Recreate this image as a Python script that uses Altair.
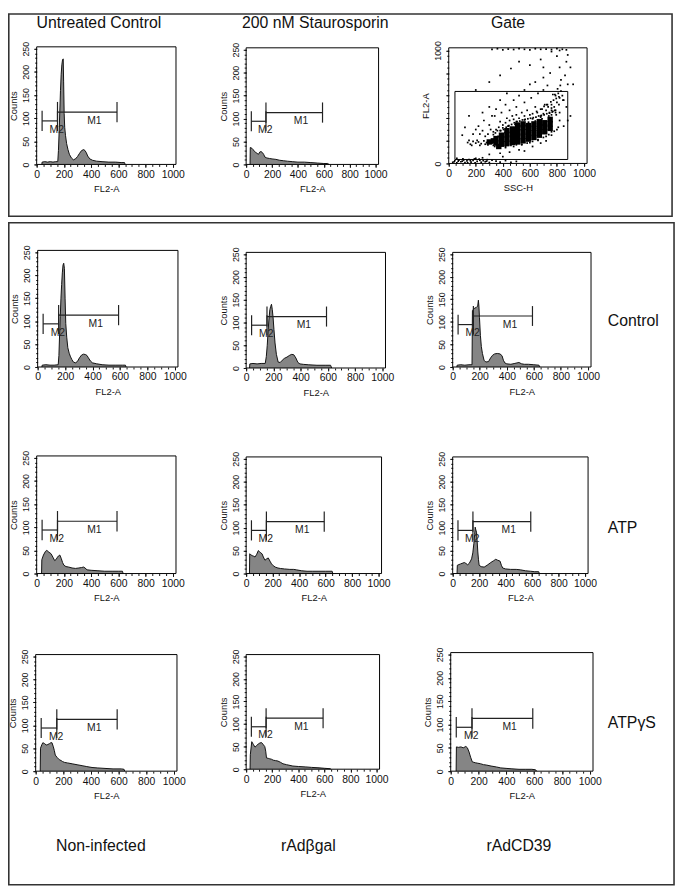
import altair as alt
import pandas as pd

FONT = "Liberation Sans"
W, H, M = 677, 886, 8      # plot area and page margin
XMAX, YMAX, GMAX = 1023, 254, 1023

# ---------------- data ----------------
untreated_fl2 = [38, 40, 60, 80, 100, 120, 140, 155, 160, 165, 170, 175, 180, 185, 190, 195, 198, 202, 206, 212, 220,
                 230, 240, 255, 270, 285, 300, 315, 330, 345, 355, 365, 375, 390, 410, 440, 480, 530, 580, 620, 645, 650]
untreated_counts = [0, 5, 6, 5, 6, 5, 6, 6, 30, 70, 115, 160, 195, 215, 226, 228, 180, 110, 80, 62, 45,
                    32, 22, 14, 10, 12, 17, 24, 30, 32, 30, 25, 18, 12, 9, 7, 6, 5, 5, 4, 4, 0]

stauro_fl2 = [30, 32, 45, 55, 65, 75, 85, 95, 105, 115, 125, 135, 145, 160, 180, 200, 230, 260, 290, 320, 360,
              400, 450, 500, 550, 600, 630, 640]
stauro_counts = [0, 37, 35, 32, 28, 26, 24, 22, 27, 28, 26, 22, 16, 14, 13, 12, 11, 9, 8, 7, 6,
                 5, 5, 4, 3, 2, 2, 0]

ctrl_noninf_fl2 = [31, 33, 60, 90, 120, 150, 155, 160, 165, 170, 175, 180, 185, 190, 195, 200, 205, 212, 220, 230,
                   240, 250, 260, 275, 290, 305, 320, 335, 350, 360, 370, 385, 400, 430, 470, 520, 570, 620, 640, 645]
ctrl_noninf_counts = [0, 4, 5, 4, 4, 5, 25, 70, 110, 150, 180, 205, 222, 226, 215, 150, 95, 65, 42, 30,
                      22, 16, 11, 9, 12, 20, 26, 28, 27, 25, 20, 13, 9, 7, 5, 4, 4, 4, 4, 0]

ctrl_bgal_fl2 = [25, 27, 50, 80, 110, 140, 148, 155, 162, 168, 174, 180, 186, 192, 198, 204, 212, 222, 235, 250,
                 265, 280, 300, 320, 335, 350, 365, 380, 395, 420, 460, 520, 580, 620, 628]
ctrl_bgal_counts = [0, 9, 10, 9, 10, 10, 25, 50, 85, 110, 128, 135, 140, 128, 110, 85, 55, 30, 13, 12,
                    17, 21, 24, 28, 30, 29, 22, 12, 9, 8, 7, 6, 6, 6, 0]

ctrl_cd39_fl2 = [31, 33, 60, 90, 120, 143, 146, 160, 175, 185, 190, 194, 198, 205, 212, 220, 232, 245, 265, 280,
                 295, 310, 330, 350, 365, 375, 386, 400, 430, 460, 490, 510, 530, 560, 600, 638, 645]
ctrl_cd39_counts = [0, 4, 5, 4, 5, 5, 125, 130, 132, 135, 148, 135, 110, 70, 45, 30, 15, 11, 12, 20,
                    26, 29, 30, 29, 25, 15, 9, 7, 6, 8, 10, 7, 6, 6, 5, 4, 0]

atp_noninf_fl2 = [36, 38, 50, 65, 75, 90, 105, 120, 132, 142, 150, 160, 170, 180, 190, 200, 215, 235, 260, 285,
                  310, 330, 345, 355, 370, 400, 450, 500, 560, 600, 630, 635]
atp_noninf_counts = [0, 30, 40, 48, 50, 46, 43, 35, 28, 30, 34, 38, 40, 33, 24, 18, 15, 14, 12, 11,
                     12, 13, 14, 12, 8, 7, 6, 5, 5, 5, 5, 0]

atp_bgal_fl2 = [25, 27, 35, 45, 55, 67, 80, 92, 100, 110, 120, 130, 142, 155, 167, 180, 192, 205, 220, 240,
                260, 290, 330, 360, 380, 420, 460, 500, 550, 600, 650, 655]
atp_bgal_counts = [0, 43, 41, 39, 38, 36, 42, 50, 48, 45, 43, 36, 29, 32, 34, 27, 21, 17, 14, 12,
                   11, 10, 9, 9, 8, 6, 5, 5, 5, 5, 5, 0]

atp_cd39_fl2 = [33, 35, 60, 88, 100, 113, 125, 143, 152, 160, 166, 170, 175, 180, 185, 190, 195, 200, 215, 238,
                260, 288, 310, 325, 340, 358, 368, 378, 400, 438, 480, 513, 550, 588, 620, 650, 655]
atp_cd39_counts = [0, 18, 21, 24, 22, 19, 22, 32, 45, 65, 85, 101, 95, 90, 70, 47, 30, 18, 15, 14,
                   18, 24, 28, 31, 29, 27, 18, 12, 10, 9, 9, 8, 6, 5, 4, 4, 0]

atps_noninf_fl2 = [33, 35, 45, 52, 65, 76, 88, 100, 110, 118, 128, 135, 142, 155, 171, 185, 194, 210, 230, 265,
                   300, 336, 370, 408, 450, 502, 560, 621, 640, 645]
atps_noninf_counts = [0, 50, 58, 62, 60, 57, 58, 60, 62, 62, 53, 45, 35, 30, 25, 23, 21, 19, 18, 16,
                      14, 12, 10, 8, 7, 6, 5, 5, 4, 0]

atps_bgal_fl2 = [30, 32, 43, 55, 68, 80, 93, 105, 118, 130, 143, 150, 156, 170, 181, 195, 207, 225, 244, 265,
                 282, 310, 358, 400, 458, 500, 559, 600, 647, 650]
atps_bgal_counts = [0, 32, 61, 55, 49, 52, 56, 58, 59, 55, 50, 40, 25, 24, 23, 22, 20, 19, 18, 15,
                    12, 10, 7, 6, 5, 4, 3, 2, 1, 0]

atps_cd39_fl2 = [39, 41, 55, 74, 90, 109, 120, 132, 143, 155, 166, 178, 195, 213, 235, 259, 290, 329, 360, 398,
                 440, 491, 540, 583, 610, 618]
atps_cd39_counts = [0, 52, 51, 52, 50, 53, 50, 41, 30, 20, 19, 18, 17, 16, 14, 13, 11, 9, 7, 6,
                    5, 4, 4, 4, 3, 0]

# markers M2 / M1 (FL2 range, level in counts, tick half height)
marker_names = ["M2", "M1"]
marker_lo = [40, 153]
marker_hi = [153, 590]
marker_level = [94, 113]
marker_half = [22, 22]
marker_label_fl2 = [148, 424]
marker_label_counts = [75, 94]

# gate scatter (SSC-H, FL2-A): dense core cells and sparse single events
core_ssc = [350, 350, 390, 390, 390, 430, 430, 430, 430, 470, 470, 470, 470, 510, 510, 510, 510, 510,
            550, 550, 550, 550, 550, 590, 590, 590, 590, 630, 630, 630, 630, 670, 670, 670, 670,
            710, 710, 710, 750, 750, 750, 330, 370, 300]
core_fl2 = [180, 220, 170, 210, 250, 175, 215, 255, 290, 185, 225, 265, 305, 190, 230, 270, 310, 340,
            200, 240, 280, 320, 350, 215, 255, 295, 335, 230, 270, 310, 350, 250, 290, 330, 370,
            280, 320, 360, 310, 350, 390, 200, 150, 190]
sparse_ssc = [30, 45, 60, 75, 90, 105, 120, 135, 150, 165, 180, 195, 210, 225, 240, 255, 270, 285, 300, 60, 100,
              140, 200, 250, 320, 350, 380, 420, 460, 500, 40, 70, 110, 160, 190, 230, 280,
              140, 160, 180, 200, 220, 240, 260, 280, 300, 320, 340, 170, 230, 290, 150, 210, 270, 330,
              760, 775, 790, 800, 810, 820, 830, 780, 805, 795, 815, 840, 770, 825, 850, 760, 745, 735, 720, 700,
              690, 680, 710, 650, 620, 640, 600, 580, 560, 540, 520, 500, 480, 470, 450, 430, 420, 400, 380, 370,
              350, 330, 310, 290, 270, 250, 230, 300, 320, 260, 220, 200, 180, 350, 420, 480, 520, 560, 600, 640,
              700, 750, 820, 860, 880, 870, 800, 830, 610, 660, 700, 730, 560, 500, 450, 390, 340, 430, 380, 300,
              250, 120, 100, 150, 200, 300, 380, 460, 520, 600, 680, 700, 760, 820, 880, 900, 920,
              320, 360, 400, 440, 480, 520, 560, 600, 640, 680, 720, 760, 800, 840, 870,
              620, 680, 720, 760, 800, 850, 880, 900, 820, 870, 300, 380, 450, 520, 560, 400,
              360, 420, 480, 540, 600, 660, 720, 760, 380, 440, 500, 560, 620, 680, 760, 790,
              330, 345, 365, 385, 405, 425, 445, 465, 485, 505, 525, 545, 565, 585, 605, 625, 645, 665, 685,
              705, 725, 745, 765, 785, 795, 770, 740, 690, 640, 590, 540, 490, 440, 400, 360,
              340, 380, 420, 460, 500, 540, 580, 620, 660, 700, 740, 780, 810, 790, 760, 730, 705, 680, 655,
              400, 460, 520, 580, 640, 700, 760, 820, 845, 815, 785, 755, 725]
sparse_fl2 = [10, 25, 5, 30, 15, 40, 8, 22, 35, 12, 28, 5, 18, 38, 10, 25, 15, 33, 8, 45, 20,
              5, 45, 50, 30, 20, 12, 25, 10, 18, 15, 20, 30, 25, 40, 28, 20,
              185, 170, 195, 180, 190, 175, 200, 185, 195, 180, 205, 160, 160, 165, 205, 205, 170, 160,
              520, 560, 600, 540, 620, 580, 640, 500, 660, 575, 520, 600, 610, 690, 560, 470, 450, 500, 470, 440,
              480, 420, 520, 460, 440, 500, 430, 470, 420, 450, 400, 430, 390, 420, 380, 400, 360, 340, 370, 320,
              300, 280, 300, 260, 240, 290, 260, 340, 420, 380, 330, 300, 260, 480, 520, 560, 600, 650, 700, 720,
              760, 800, 850, 780, 700, 900, 950, 740, 580, 620, 650, 690, 540, 500, 470, 450, 420, 620, 560, 500,
              450, 320, 250, 420, 650, 720, 780, 840, 900, 870, 920, 850, 990, 1000, 960, 850, 700,
              1010, 1015, 1005, 1012, 1008, 1015, 1010, 1005, 1015, 1010, 1012, 1008, 1015, 1010, 1005,
              150, 180, 200, 250, 300, 330, 380, 420, 450, 500, 80, 90, 100, 120, 110, 60,
              140, 140, 150, 165, 185, 205, 240, 280, 290, 330, 370, 385, 395, 410, 430, 450,
              255, 270, 240, 290, 300, 320, 335, 345, 360, 370, 375, 385, 390, 395, 400, 405, 410, 420, 425,
              430, 440, 445, 455, 470, 430, 460, 420, 395, 375, 365, 355, 345, 330, 315, 290,
              150, 145, 150, 160, 165, 170, 180, 195, 210, 230, 255, 285, 320, 470, 490, 520, 505, 480, 450,
              260, 280, 300, 315, 325, 340, 365, 380, 560, 590, 610, 545, 520]
gate_ssc = [46, 880]
gate_fl2 = [35, 637]

column_titles = ["Untreated Control", "200 nM Staurosporin", "Gate"]
row_labels = ["Control", "ATP", "ATP\u03b3S"]
infection_labels = ["Non-infected", "rAd\u03b2gal", "rAdCD39"]

# ---------------- layout (reference pixel positions of each panel frame) ----------------
# (fl2, counts, left edge = 0, right frame edge, bottom = 0, top frame edge)
hist_panels = [
    (untreated_fl2, untreated_counts, 37, 178, 161, 42),
    (stauro_fl2, stauro_counts, 249, 383, 161, 43),
    (ctrl_noninf_fl2, ctrl_noninf_counts, 38, 180, 366, 248),
    (ctrl_bgal_fl2, ctrl_bgal_counts, 249, 390, 367, 250),
    (ctrl_cd39_fl2, ctrl_cd39_counts, 458, 598, 366, 250),
    (atp_noninf_fl2, atp_noninf_counts, 37, 178, 575, 456),
    (atp_bgal_fl2, atp_bgal_counts, 249, 386, 575, 457),
    (atp_cd39_fl2, atp_cd39_counts, 458, 595, 575, 457),
    (atps_noninf_fl2, atps_noninf_counts, 36, 179, 775, 657),
    (atps_bgal_fl2, atps_bgal_counts, 249, 384, 773, 657),
    (atps_cd39_fl2, atps_cd39_counts, 456, 600, 775, 655),
]
gate_frame = (454, 594, 160, 43)

LBL = dict(labelFont=FONT, titleFont=FONT, labelColor="#111111", titleColor="#111111",
           tickColor="#111111", titleFontWeight="normal", grid=False)


def x_axes(bottom, title):
    off = (bottom - M) - H
    major = alt.Axis(orient="bottom", offset=off, values=[0, 200, 400, 600, 800, 1000], format="d", tickSize=3,
                     labelFontSize=10.5, labelPadding=2, labelFlush=False, labelOverlap=False,
                     domain=False, title=title, titleFontSize=9.5, titlePadding=4, **LBL)
    minor = alt.Axis(orient="bottom", offset=off, values=list(range(0, 1001, 50)), tickSize=2,
                     labels=False, domain=False, title="", **LBL)
    return major, minor


def y_axes(left, title, values, minor_values, label_expr=None):
    off = -(left - M)
    kw = dict(orient="left", offset=off, values=values, format="d", tickSize=3, labelAngle=270,
              labelAlign="center", labelBaseline="bottom", labelFontSize=9, labelPadding=3,
              labelFlush=False, labelOverlap=False, domain=False, title=title, titleFontSize=9.5,
              titlePadding=3, **LBL)
    if label_expr:
        kw["labelExpr"] = label_expr
    major = alt.Axis(**kw)
    minor = alt.Axis(orient="left", offset=off, values=minor_values, tickSize=2, labels=False,
                     domain=False, title="", **LBL)
    return major, minor


layers = []

for fl2, counts, left, right, bottom, top in hist_panels:
    sx = alt.Scale(domain=[0, XMAX], range=[left - M, right - M], nice=False)
    sy = alt.Scale(domain=[0, YMAX], range=[bottom - M, top - M], nice=False)
    xmaj, xmin = x_axes(bottom, "FL2-A")
    ymaj, ymin = y_axes(left, "Counts", [0, 50, 100, 150, 200, 250], list(range(0, 251, 10)))

    hdf = pd.DataFrame({"fl2": fl2, "counts": counts})
    layers.append(
        alt.Chart(hdf).mark_area(color="#858585", opacity=1,
                                 line=alt.OverlayMarkDef(color="#111111", strokeWidth=1)).encode(
            x=alt.X("fl2:Q", scale=sx, axis=xmaj),
            y=alt.Y("counts:Q", scale=sy, axis=ymaj, stack=None),
        )
    )
    fdf = pd.DataFrame({"x0": [0], "x1": [XMAX], "y0": [0], "y1": [YMAX]})
    layers.append(
        alt.Chart(fdf).mark_rect(fillOpacity=0, stroke="black", strokeWidth=1).encode(
            x=alt.X("x0:Q", scale=sx, axis=xmin), x2="x1:Q",
            y=alt.Y("y0:Q", scale=sy, axis=ymin), y2="y1:Q",
        )
    )
    mdf = pd.DataFrame({"lo": marker_lo, "hi": marker_hi, "lvl": marker_level})
    layers.append(
        alt.Chart(mdf).mark_rule(color="#222222", strokeWidth=1.2).encode(
            x=alt.X("lo:Q", scale=sx, axis=None), x2="hi:Q",
            y=alt.Y("lvl:Q", scale=sy, axis=None),
        )
    )
    tlo = [l - h for l, h in zip(marker_level, marker_half)]
    thi = [l + h for l, h in zip(marker_level, marker_half)]
    edf = pd.DataFrame({"pos": marker_lo + marker_hi, "tlo": tlo * 2, "thi": thi * 2})
    layers.append(
        alt.Chart(edf).mark_rule(color="#222222", strokeWidth=1.2).encode(
            x=alt.X("pos:Q", scale=sx, axis=None),
            y=alt.Y("tlo:Q", scale=sy, axis=None), y2="thi:Q",
        )
    )
    ldf = pd.DataFrame({"fl2": marker_label_fl2, "counts": marker_label_counts, "name": marker_names})
    layers.append(
        alt.Chart(ldf).mark_text(font=FONT, fontSize=10.5, color="#222222", baseline="middle").encode(
            x=alt.X("fl2:Q", scale=sx, axis=None),
            y=alt.Y("counts:Q", scale=sy, axis=None),
            text="name:N",
        )
    )

# gate panel
gl, gr, gb, gt = gate_frame
gsx = alt.Scale(domain=[0, GMAX], range=[gl - M, gr - M], nice=False)
gsy = alt.Scale(domain=[0, GMAX], range=[gb - M, gt - M], nice=False)
gxmaj, gxmin = x_axes(gb, "SSC-H")
gymaj, gymin = y_axes(gl, "FL2-A", [0, 200, 400, 600, 800, 1000], list(range(0, 1001, 50)),
                      label_expr="datum.value == 0 || datum.value == 1000 ? datum.label : ''")

layers.append(
    alt.Chart(pd.DataFrame({"ssc": core_ssc, "fl2": core_fl2})).mark_square(size=30, color="black", opacity=1).encode(
        x=alt.X("ssc:Q", scale=gsx, axis=gxmaj),
        y=alt.Y("fl2:Q", scale=gsy, axis=gymaj),
    )
)
layers.append(
    alt.Chart(pd.DataFrame({"ssc": sparse_ssc, "fl2": sparse_fl2})).mark_square(size=3, color="black", opacity=1).encode(
        x=alt.X("ssc:Q", scale=gsx, axis=None),
        y=alt.Y("fl2:Q", scale=gsy, axis=None),
    )
)
layers.append(
    alt.Chart(pd.DataFrame({"x0": [gate_ssc[0]], "x1": [gate_ssc[1]], "y0": [gate_fl2[0]], "y1": [gate_fl2[1]]}))
    .mark_rect(fillOpacity=0, stroke="black", strokeWidth=1).encode(
        x=alt.X("x0:Q", scale=gsx, axis=None), x2="x1:Q",
        y=alt.Y("y0:Q", scale=gsy, axis=None), y2="y1:Q",
    )
)
layers.append(
    alt.Chart(pd.DataFrame({"x0": [0], "x1": [GMAX], "y0": [0], "y1": [GMAX]}))
    .mark_rect(fillOpacity=0, stroke="black", strokeWidth=1).encode(
        x=alt.X("x0:Q", scale=gsx, axis=gxmin), x2="x1:Q",
        y=alt.Y("y0:Q", scale=gsy, axis=gymin), y2="y1:Q",
    )
)


# text annotations
def text_layer(text, x, y, align="center", size=16):
    return alt.Chart(pd.DataFrame({"t": [text]})).mark_text(
        font=FONT, fontSize=size, align=align, baseline="alphabetic", color="#111111"
    ).encode(x=alt.value(x - M), y=alt.value(y - M), text="t:N")


for t, x in zip(column_titles, [100, 319, 514]):
    layers.append(text_layer(t, x, 23))
for t, y in zip(row_labels, [324, 534, 731]):
    layers.append(text_layer(t, 615, y, align="left"))
for t, x in zip(infection_labels, [102, 312, 525]):
    layers.append(text_layer(t, x, 856))

# outer boxes
for x1, y1, x2, y2 in [(8.8, 8.8, 680, 213.5), (8.8, 220, 682, 890)]:
    layers.append(
        alt.Chart(pd.DataFrame({"t": [0]})).mark_rect(fillOpacity=0, stroke="#333333", strokeWidth=1.6).encode(
            x=alt.value(x1 - M), x2=alt.value(x2 - M), y=alt.value(y1 - M), y2=alt.value(y2 - M)
        )
    )

chart = (
    alt.layer(*layers)
    .resolve_scale(x="independent", y="independent")
    .properties(width=W, height=H, padding=0, autosize=alt.AutoSizeParams(type="none"))
    .configure_view(strokeWidth=0)
    .configure_axis(grid=False)
)

chart.save("out.html", embed_options={"renderer": "svg", "actions": False})
